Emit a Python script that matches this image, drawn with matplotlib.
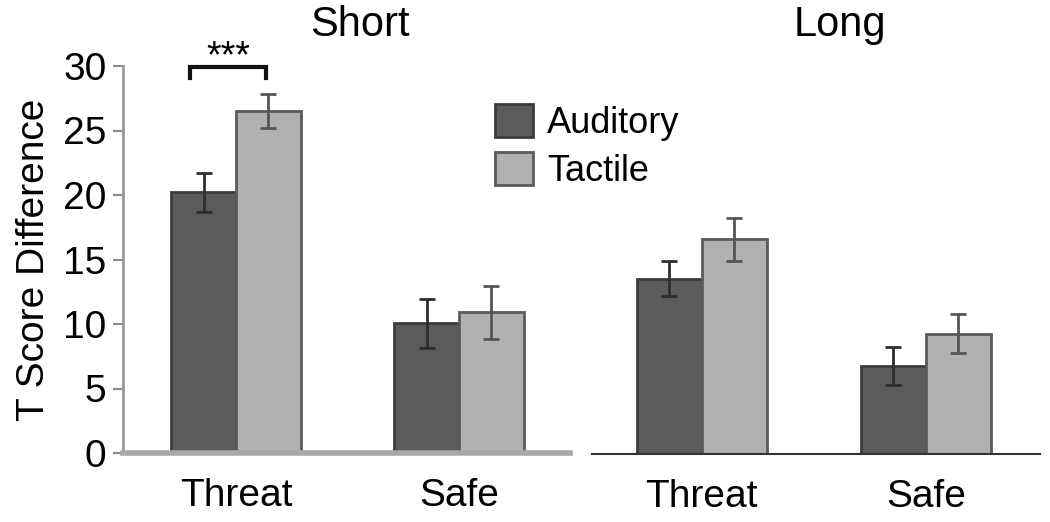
import matplotlib
matplotlib.use("Agg")
import matplotlib.pyplot as plt
import numpy as np

plt.rcParams['font.family'] = ['Liberation Sans', 'DejaVu Sans']

panels = ["Short", "Long"]
conditions = ["Threat", "Safe"]
series = ["Auditory", "Tactile"]
short_auditory = [20.2, 10.05]
short_tactile = [26.5, 10.9]
long_auditory = [13.55, 6.8]
long_tactile = [16.6, 9.3]
short_auditory_err = [1.5, 1.9]
short_tactile_err = [1.3, 2.05]
long_auditory_err = [1.35, 1.5]
long_tactile_err = [1.65, 1.5]
yticks = [0, 5, 10, 15, 20, 25, 30]

fill_colors = ["#5b5b5b", "#b1b1b1"]
edge_colors = ["#3c3c3c", "#5a5a5a"]
err_colors = ["#2e2e2e", "#555555"]

fig = plt.figure(figsize=(10.5, 5.22), dpi=100)
ax1 = fig.add_axes([123/1050, 1-453/522, (570-123)/1050, (453-66)/522])
ax2 = fig.add_axes([592/1050, 1-454/522, (1040-592)/1050, (454-66)/522])
ax2.patch.set_visible(False)

bw = 0.29
x = np.arange(len(conditions))

data = [
    (ax1, [short_auditory, short_tactile], [short_auditory_err, short_tactile_err]),
    (ax2, [long_auditory, long_tactile], [long_auditory_err, long_tactile_err]),
]

handles = []
for ax, vals, errs in data:
    hs = []
    for i in range(2):
        xpos = x + (i - 0.5) * bw
        b = ax.bar(xpos, vals[i], width=bw, color=fill_colors[i], edgecolor=edge_colors[i],
                   linewidth=2, label=series[i], zorder=2)
        hs.append(b)
        ax.errorbar(xpos, vals[i], yerr=errs[i], fmt='none', ecolor=err_colors[i],
                    elinewidth=2, capsize=6, capthick=2, zorder=3)
    if not handles:
        handles = hs
    ax.set_ylim(0, 30)
    ax.set_xticks(x)
    ax.set_xticklabels(conditions, fontsize=28)
    ax.tick_params(axis='x', length=0, pad=18)
    ax.spines['top'].set_visible(False)
    ax.spines['right'].set_visible(False)

ax1.set_xlim(-0.507, 1.498)
ax2.set_xlim(-0.49, 1.51)

ax1.set_yticks(yticks)
ax1.set_yticklabels([str(t) for t in yticks], fontsize=28)
ax1.tick_params(axis='y', length=7, width=1.5, color="#8a8a8a", pad=5)
ax1.spines['left'].set_color("#9a9a9a")
ax1.spines['left'].set_linewidth(2)
ax1.spines['bottom'].set_color("#a8a8a8")
ax1.spines['bottom'].set_linewidth(4)
ax1.set_ylabel("T Score Difference", fontsize=28, labelpad=8)

ax2.set_yticks([])
ax2.spines['left'].set_visible(False)
ax2.spines['bottom'].set_color("#333333")
ax2.spines['bottom'].set_linewidth(1.5)

# significance bracket
x_l = x[0] - 0.5 * bw - 0.06
x_r = x[0] + 0.5 * bw - 0.01
ax1.plot([x_l, x_l, x_r, x_r], [29.1, 29.9, 29.9, 29.1], color="#111111", lw=3,
         clip_on=False, solid_joinstyle='miter')
ax1.text((x_l + x_r) / 2, 29.3, "***", ha='center', va='bottom', fontsize=27,
         clip_on=False)

fig.text(360/1050, 1-25/522, panels[0], ha='center', va='center', fontsize=30)
fig.text(840/1050, 1-25/522, panels[1], ha='center', va='center', fontsize=30)

fig.legend(handles, series, loc='upper left', bbox_to_anchor=(495/1050, 1-104/522),
           bbox_transform=fig.transFigure, frameon=False, fontsize=26,
           handlelength=1.05, handleheight=1.05, labelspacing=0.3, handletextpad=0.4,
           borderpad=0, borderaxespad=0)

fig.savefig("out.png", dpi=100)
